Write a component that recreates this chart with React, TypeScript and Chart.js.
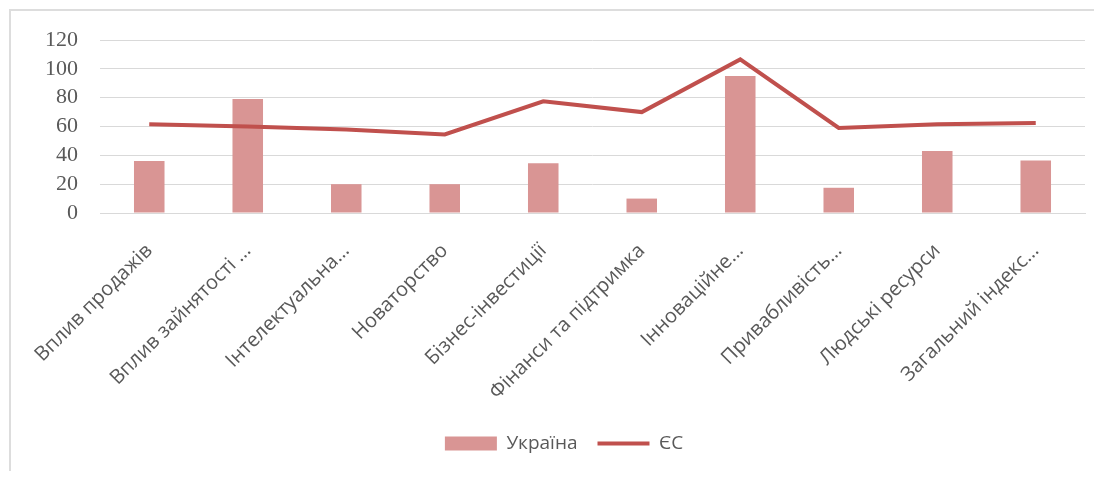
import React, { useEffect, useRef } from "react";
import { Chart, registerables } from "chart.js";

Chart.register(...registerables);

const categories = [
  "Вплив продажів",
  "Вплив зайнятості …",
  "Інтелектуальна…",
  "Новаторство",
  "Бізнес-інвестиції",
  "Фінанси та підтримка",
  "Інноваційне…",
  "Привабливість…",
  "Людські ресурси",
  "Загальний індекс…",
];
const ukraineValues = [36, 79, 20, 20, 34.5, 10, 95, 17.5, 43, 36.5];
const euValues = [61.5, 60, 58, 54.5, 77.5, 70, 106.5, 59, 61.5, 62.5];
const yTicks = [0, 20, 40, 60, 80, 100, 120];

const legendShift = {
  id: "legendShift",
  afterLayout(chart: any) {
    const lg = chart.legend;
    if (lg) {
      lg.left += 16;
      lg.right += 16;
    }
  },
};

export default function App() {
  const ref = useRef<HTMLCanvasElement>(null);
  useEffect(() => {
    if (!ref.current) return;
    const chart = new Chart(ref.current, {
      type: "bar",
      plugins: [legendShift],
      data: {
        labels: categories,
        datasets: [
          {
            type: "line",
            label: "ЄС",
            data: euValues,
            borderColor: "#C0504D",
            backgroundColor: "#C0504D",
            borderWidth: 4,
            pointRadius: 0,
            tension: 0,
            order: 0,
          },
          {
            type: "bar",
            label: "Україна",
            data: ukraineValues,
            backgroundColor: "#D99594",
            borderWidth: 0,
            categoryPercentage: 1,
            barPercentage: 0.31,
            order: 1,
          },
        ],
      },
      options: {
        animation: false,
        responsive: false,
        layout: { padding: { top: 29, right: 7, left: 0, bottom: 8 } },
        plugins: {
          tooltip: { enabled: false },
          legend: {
            position: "bottom",
            reverse: true,
            labels: {
              color: "#595959",
              font: { family: "Open Sans", size: 19 },
              usePointStyle: true,
              pointStyleWidth: 52,
              boxHeight: 14,
              padding: 20,
              generateLabels: (c: any) => {
                const ds = c.data.datasets;
                return ds.map((d: any, i: number) => ({
                  text: d.label,
                  fillStyle: d.backgroundColor,
                  strokeStyle: d.type === "line" ? d.borderColor : d.backgroundColor,
                  lineWidth: d.type === "line" ? 4 : 0,
                  pointStyle: d.type === "line" ? "line" : "rect",
                  hidden: false,
                  datasetIndex: i,
                  fontColor: "#595959",
                }));
              },
            },
          },
        },
        scales: {
          x: {
            grid: { display: false },
            border: { display: true, color: "#D9D9D9" },
            ticks: {
              color: "#595959",
              font: { family: "Open Sans", size: 20 },
              maxRotation: 45,
              minRotation: 45,
              autoSkip: false,
              padding: 18,
            },
            afterFit: (s: any) => {
              s.height = 201;
            },
          },
          y: {
            min: 0,
            max: 120,
            afterBuildTicks: (s: any) => {
              s.ticks = yTicks.map((v) => ({ value: v }));
            },
            grid: { color: "#D9D9D9", lineWidth: 1, drawTicks: false },
            border: { display: false },
            ticks: {
              color: "#595959",
              font: { family: "Liberation Serif", size: 22 },
              padding: 22,
              autoSkip: false,
            },
            afterFit: (s: any) => {
              s.width = 89;
              s.paddingTop = 10;
              s.paddingBottom = 10;
            },
          },
        },
      },
    });
    return () => chart.destroy();
  }, []);
  return (
    <div
      style={{
        marginTop: 1,
        marginLeft: 1,
        borderTop: "2px solid #DDDDDD",
        borderLeft: "2px solid #DDDDDD",
        width: 1093,
        height: 460,
      }}
    >
      <canvas ref={ref} width={1081} height={460} />
    </div>
  );
}
